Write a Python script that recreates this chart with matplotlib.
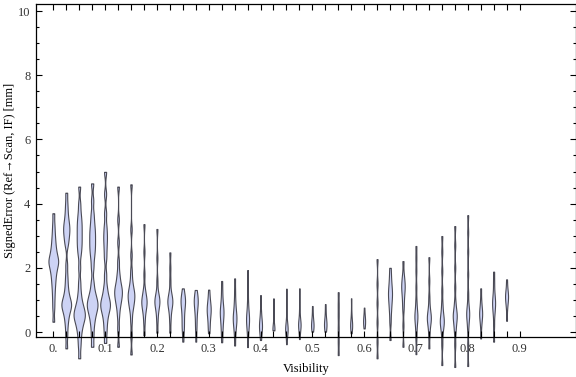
import numpy as np
import matplotlib
matplotlib.use("Agg")
import matplotlib.pyplot as plt
from matplotlib.ticker import MultipleLocator

# visibility bins (violin centres)
visibility = [0.0, 0.025, 0.05, 0.075, 0.1, 0.125, 0.15, 0.175, 0.2, 0.225,
              0.25, 0.275, 0.3, 0.325, 0.35, 0.375, 0.4, 0.425, 0.45, 0.475,
              0.5, 0.525, 0.55, 0.575, 0.6, 0.625, 0.65, 0.675, 0.7, 0.725,
              0.75, 0.775, 0.8, 0.825, 0.85, 0.875]

# signed error samples per bin [mm]
signed_error = [
    [0.32, 0.75, 1.05, 1.3, 1.5, 1.65, 1.8, 1.9, 2.0, 2.1, 2.15, 2.2, 2.25, 2.3, 2.4, 2.5, 2.6, 2.75, 2.9, 3.1, 3.35, 3.7],
    [-0.51, -0.1, 0.2, 0.4, 0.55, 0.65, 0.75, 0.8, 0.85, 0.9, 0.95, 1.05, 1.15, 1.3, 1.5, 1.75, 2.1, 2.7, 2.85, 3.0, 3.1, 3.2, 3.3, 3.4, 3.55, 3.75, 4.0, 4.34],
    [-0.82, -0.45, -0.2, 0.0, 0.15, 0.25, 0.35, 0.42, 0.48, 0.53, 0.58, 0.65, 0.72, 0.8, 0.9, 1.05, 1.25, 1.55, 2.0, 2.4, 2.6, 2.75, 2.9, 3.05, 3.2, 3.35, 3.5, 3.7, 4.0, 4.53],
    [-0.46, -0.1, 0.2, 0.4, 0.55, 0.65, 0.75, 0.82, 0.88, 0.95, 1.05, 1.15, 1.3, 1.55, 2.0, 2.3, 2.5, 2.65, 2.8, 2.95, 3.1, 3.25, 3.45, 3.7, 4.1, 4.63],
    [-0.34, 0.0, 0.25, 0.45, 0.6, 0.7, 0.78, 0.85, 0.92, 1.0, 1.1, 1.25, 1.45, 1.8, 2.3, 2.6, 2.85, 3.05, 3.3, 3.7, 4.3, 4.99],
    [-0.46, 0.1, 0.5, 0.75, 0.9, 1.0, 1.1, 1.18, 1.25, 1.32, 1.4, 1.5, 1.65, 1.85, 2.2, 2.8, 3.5, 4.53],
    [-0.7, -0.1, 0.35, 0.65, 0.8, 0.9, 1.0, 1.08, 1.15, 1.22, 1.3, 1.42, 1.6, 1.9, 2.4, 3.2, 4.6],
    [-0.1, 0.3, 0.55, 0.7, 0.8, 0.88, 0.94, 1.0, 1.08, 1.18, 1.35, 1.8, 2.5, 3.36],
    [-0.02, 0.35, 0.6, 0.75, 0.85, 0.92, 0.97, 1.03, 1.12, 1.25, 1.6, 2.3, 3.21],
    [-0.02, 0.35, 0.6, 0.75, 0.85, 0.92, 0.97, 1.03, 1.12, 1.25, 1.6, 2.0, 2.48],
    [-0.3, 0.0, 0.15, 0.3, 0.45, 0.6, 0.72, 0.82, 0.9, 0.97, 1.03, 1.1, 1.2, 1.36],
    [-0.3, 0.05, 0.25, 0.45, 0.6, 0.72, 0.82, 0.9, 0.96, 1.02, 1.1, 1.2, 1.31],
    [-0.04, 0.15, 0.3, 0.45, 0.55, 0.63, 0.7, 0.77, 0.85, 0.95, 1.1, 1.32],
    [-0.32, -0.05, 0.15, 0.3, 0.42, 0.52, 0.6, 0.68, 0.76, 0.88, 1.05, 1.3, 1.59],
    [-0.42, -0.1, 0.1, 0.22, 0.32, 0.4, 0.47, 0.55, 0.65, 0.8, 1.0, 1.3, 1.67],
    [-0.47, -0.1, 0.1, 0.22, 0.32, 0.4, 0.48, 0.58, 0.72, 0.95, 1.3, 1.93],
    [-0.25, -0.05, 0.05, 0.13, 0.2, 0.27, 0.35, 0.48, 0.7, 1.15],
    [0.05, 0.07, 0.09, 0.1, 0.11, 0.13, 0.5, 1.05],
    [-0.38, -0.1, 0.0, 0.05, 0.1, 0.15, 0.22, 0.4, 0.8, 1.35],
    [-0.22, 0.05, 0.15, 0.2, 0.25, 0.3, 0.42, 0.7, 1.36],
    [0.01, 0.12, 0.18, 0.22, 0.27, 0.35, 0.55, 0.81],
    [0.01, 0.12, 0.2, 0.25, 0.3, 0.38, 0.6, 0.87],
    [-0.72, -0.3, 0.1, 0.5, 0.85, 1.24],
    [-0.04, 0.12, 0.18, 0.22, 0.27, 0.35, 0.6, 1.05],
    [0.11, 0.25, 0.3, 0.34, 0.4, 0.5, 0.76],
    [-0.82, -0.3, 0.3, 0.9, 1.5, 2.27],
    [-0.25, 0.3, 0.6, 0.8, 0.95, 1.08, 1.18, 1.28, 1.4, 1.55, 1.75, 2.0],
    [-0.46, 0.2, 0.7, 0.95, 1.15, 1.3, 1.4, 1.5, 1.62, 1.8, 2.21],
    [-0.69, -0.2, 0.1, 0.3, 0.42, 0.5, 0.6, 0.75, 1.0, 1.4, 1.9, 2.3, 2.68],
    [-0.51, -0.1, 0.15, 0.3, 0.38, 0.45, 0.52, 0.62, 0.8, 1.1, 1.6, 2.33],
    [-1.03, -0.4, -0.05, 0.15, 0.25, 0.32, 0.4, 0.5, 0.65, 0.9, 1.3, 1.9, 2.5, 2.99],
    [-1.09, -0.4, 0.0, 0.2, 0.35, 0.45, 0.52, 0.6, 0.72, 0.95, 1.4, 2.0, 2.7, 3.3],
    [-1.06, -0.4, 0.1, 0.35, 0.48, 0.58, 0.68, 0.85, 1.2, 1.8, 2.5, 3.1, 3.64],
    [-0.2, 0.2, 0.4, 0.5, 0.58, 0.66, 0.78, 1.0, 1.36],
    [-0.3, 0.2, 0.55, 0.72, 0.85, 0.95, 1.05, 1.25, 1.55, 1.88],
    [0.35, 0.75, 0.95, 1.05, 1.12, 1.2, 1.35, 1.64],
]

x_tick_pos = visibility + [0.9]
x_tick_lbl = ["0.", "", "", "", "0.1", "", "", "", "0.2", "", "", "", "0.3", "", "", "",
              "0.4", "", "", "", "0.5", "", "", "", "0.6", "", "", "", "0.7", "", "", "",
              "0.8", "", "", "", "0.9"]

plt.rcParams["font.family"] = ["Liberation Serif", "DejaVu Serif"]

fig = plt.figure(figsize=(5.76, 3.77), dpi=100)
ax = fig.add_axes([36 / 576, 39.7 / 377, 539.5 / 576, 333 / 377])

# max violin width on screen (px), 1 x-unit ~ 518 px
width_px = [9.7, 9.7, 11.3, 10.7, 9.7, 7.7, 6.7, 5.3, 5, 5, 4.5, 4, 4, 3.7, 3.7, 3, 3, 2, 2.5, 2.5,
            2.5, 2.5, 1, 2, 2, 1, 4, 3.5, 3, 4, 4, 4, 3, 3, 3, 3]
BW = 0.16


def fixed_bw(kde):
    return BW / np.std(kde.dataset, ddof=1)


parts = ax.violinplot(signed_error, positions=visibility, widths=np.array(width_px) / 518,
                      showextrema=False, bw_method=fixed_bw, points=300)
for body in parts["bodies"]:
    body.set_facecolor("#cdd3f5")
    body.set_edgecolor("#4a4a55")
    body.set_alpha(1)
    body.set_linewidth(0.8)
    body.set_clip_on(False)

ax.set_xlim(-0.0334, 1.0081)
ax.set_ylim(-0.165, 10.21)
ax.set_xticks(x_tick_pos, labels=x_tick_lbl)
ax.set_yticks([0, 2, 4, 6, 8, 10])
ax.yaxis.set_minor_locator(MultipleLocator(0.5))
ax.tick_params(which="both", direction="in", top=True, right=True, labelsize=9,
               labelcolor="#333333", width=0.8)
ax.tick_params(which="major", length=4.5, pad=4)
ax.tick_params(which="minor", length=2.5)
for s in ax.spines.values():
    s.set_linewidth(0.9)

ax.set_xlabel("Visibility", fontsize=9, labelpad=6)
ax.set_ylabel("SignedError (Ref\u2192Scan, IF) [mm]", fontsize=9, va="center")
ax.yaxis.set_label_coords(-26 / 539.5, 0.5)

fig.savefig("out.png", dpi=100)
